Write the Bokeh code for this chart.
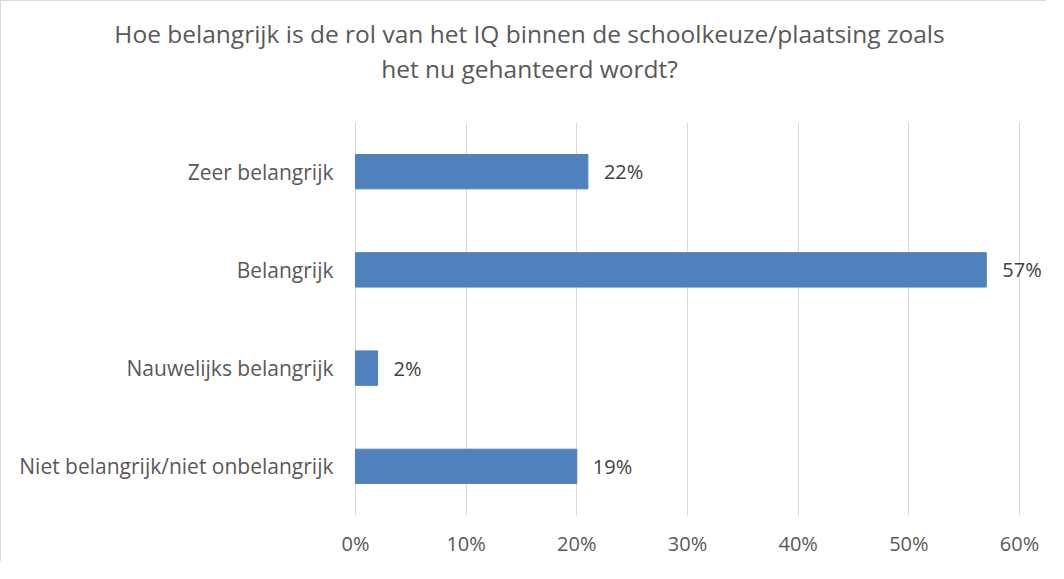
from bokeh.plotting import figure
from bokeh.models import (FactorRange, Range1d, FixedTicker, PrintfTickFormatter, Title,
                          ColumnDataSource, LinearAxis)
from bokeh.core.properties import value
from bokeh.embed import file_html
from bokeh.resources import INLINE

title_lines = ["Hoe belangrijk is de rol van het IQ binnen de schoolkeuze/plaatsing zoals",
               "het nu gehanteerd wordt?"]
categories = ["Zeer belangrijk", "Belangrijk", "Nauwelijks belangrijk", "Niet belangrijk/niet onbelangrijk"]
values = [21, 57, 2, 20]
value_labels = ["22%", "57%", "2%", "19%"]
x_ticks = [0, 10, 20, 30, 40, 50, 60]

FONT = "Open Sans"
GREY = "#595959"

src = ColumnDataSource(dict(cat=categories, val=values, lab=value_labels,
                            zero=[0] * len(categories)))

p = figure(width=1046, height=561, output_backend="svg", toolbar_location=None,
           y_range=FactorRange(factors=list(reversed(categories))),
           x_range=Range1d(-31.08, 62.53),
           min_border_left=10, min_border_right=0, min_border_top=121, min_border_bottom=47)
p.styles = {"border-left": "1px solid #d9d9d9", "border-top": "1px solid #d9d9d9"}
p.outline_line_color = None
p.background_fill_color = "white"
p.border_fill_color = "white"

p.hbar(y="cat", right="val", left=0, height=0.35, source=src,
       fill_color="#4F81BD", line_color="#4F81BD")
p.text(x="val", y="cat", text="lab", source=src, x_offset=16,
       text_baseline="middle", text_align="left",
       text_font=value(FONT), text_font_size="20px", text_color="#404040")
# category labels (the frame extends left of 0%, so they are drawn as text at x=0)
p.text(x="zero", y="cat", text="cat", source=src, x_offset=-22,
       text_baseline="middle", text_align="right",
       text_font=value(FONT), text_font_size="21px", text_color=GREY)

p.yaxis.visible = False
p.xaxis.ticker = FixedTicker(ticks=x_ticks)
p.xaxis.formatter = PrintfTickFormatter(format="%d%%")
p.xgrid.ticker = FixedTicker(ticks=x_ticks)
p.xgrid.grid_line_color = "#d9d9d9"
p.ygrid.grid_line_color = None
p.xaxis.axis_line_color = None
p.xaxis.major_tick_line_color = None
p.xaxis.minor_tick_line_color = None
p.xaxis.major_label_text_font = FONT
p.xaxis.major_label_text_font_size = "20px"
p.xaxis.major_label_text_color = GREY
p.xaxis.major_label_standoff = 8

# invisible spacer between the title and the plot area (one hidden tick, no line, no label)
spacer = LinearAxis(ticker=FixedTicker(ticks=[-31]), axis_line_color=None,
                    major_tick_line_color=None, minor_tick_line_color=None,
                    major_tick_out=38, major_tick_in=0, minor_tick_out=0, minor_tick_in=0,
                    major_label_standoff=0, major_label_text_font_size="0px",
                    major_label_text_alpha=0)
p.add_layout(spacer, "above")

# second line first: titles stack outward from the plot area
for txt in reversed(title_lines):
    p.add_layout(Title(text=txt, align="center", standoff=0,
                       text_font=FONT, text_font_size="24.5px", text_font_style="normal",
                       text_color=GREY), "above")

open("out.html", "w").write(file_html(p, INLINE))
